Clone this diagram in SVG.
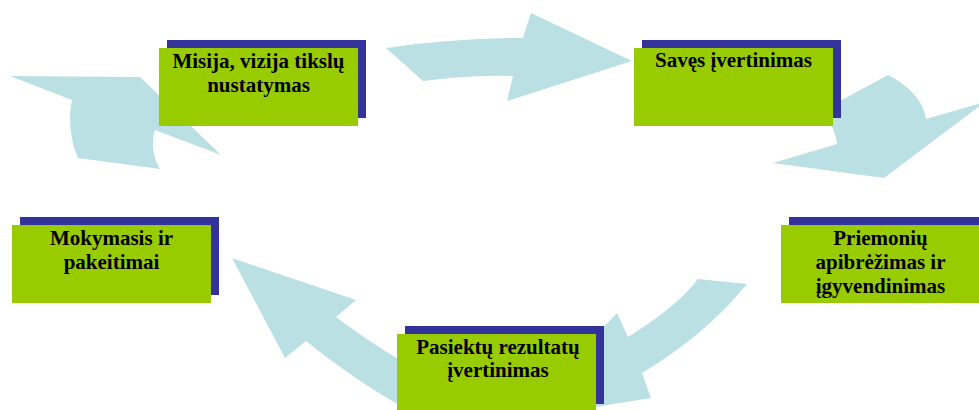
<svg xmlns="http://www.w3.org/2000/svg" width="979" height="410" viewBox="0 0 979 410">
<style>
.arrow{fill:#BBE0E3;stroke:none}
.shadow{fill:#333399}
.box{fill:#99CC00}
.lbl{font-family:"Liberation Serif","Times New Roman",serif;font-weight:bold;font-size:21px;fill:#000;text-anchor:middle}
</style>
<rect width="979" height="410" fill="#fff"/>
<g id="connectors">
  <path class="arrow" d="M386,48 Q455,38 523,38 L531,13 L632,61 L507,101 L513,76 Q470,75 423,81 Z"/>
  <path class="arrow" d="M773,163 L837,144 C836,135 833,128 830,124 L816,114 L888,75 C905,83 924,100 926,119 L985,102 L884,178 Z"/>
  <path class="arrow" d="M698,279 L747,284 C716,322 680,350 642,373 L651,398 L515,420 L617,313 L628,337 C655,320 680,302 698,279 Z"/>
  <path class="arrow" d="M232,258 L356,300 L336,317 C370,342 400,362 445,385 L430,420 C385,400 345,372 306,341 L285,358 Z"/>
  <path class="arrow" d="M10,76 L140,77 L221,155 L155,130 C151,142 153,158 160,169 L78,158 C70,140 68,118 72,100 Z"/>
</g>
<g id="node-misija">
  <rect class="shadow" x="167" y="40" width="199" height="78"/>
  <rect class="box" x="159" y="48" width="199" height="78"/>
  <text class="lbl" x="258.5" y="68">Misija, vizija tikslų</text>
  <text class="lbl" x="258.5" y="92">nustatymas</text>
</g>
<g id="node-saves">
  <rect class="shadow" x="642" y="40" width="199" height="78"/>
  <rect class="box" x="634" y="48" width="199" height="78"/>
  <text class="lbl" x="733.5" y="67">Savęs įvertinimas</text>
</g>
<g id="node-priemoniu">
  <rect class="shadow" x="789" y="217" width="199" height="78"/>
  <rect class="box" x="781" y="225" width="199" height="78"/>
  <text class="lbl" x="880.5" y="245">Priemonių</text>
  <text class="lbl" x="880.5" y="269">apibrėžimas ir</text>
  <text class="lbl" x="880.5" y="293">įgyvendinimas</text>
</g>
<g id="node-pasiektu">
  <rect class="shadow" x="405" y="326" width="199" height="78"/>
  <rect class="box" x="397" y="334" width="199" height="78"/>
  <text class="lbl" x="498" y="354">Pasiektų rezultatų</text>
  <text class="lbl" x="498" y="377">įvertinimas</text>
</g>
<g id="node-mokymasis">
  <rect class="shadow" x="20" y="217" width="199" height="78"/>
  <rect class="box" x="12" y="225" width="199" height="78"/>
  <text class="lbl" x="111.5" y="245">Mokymasis ir</text>
  <text class="lbl" x="111.5" y="269">pakeitimai</text>
</g>
</svg>
